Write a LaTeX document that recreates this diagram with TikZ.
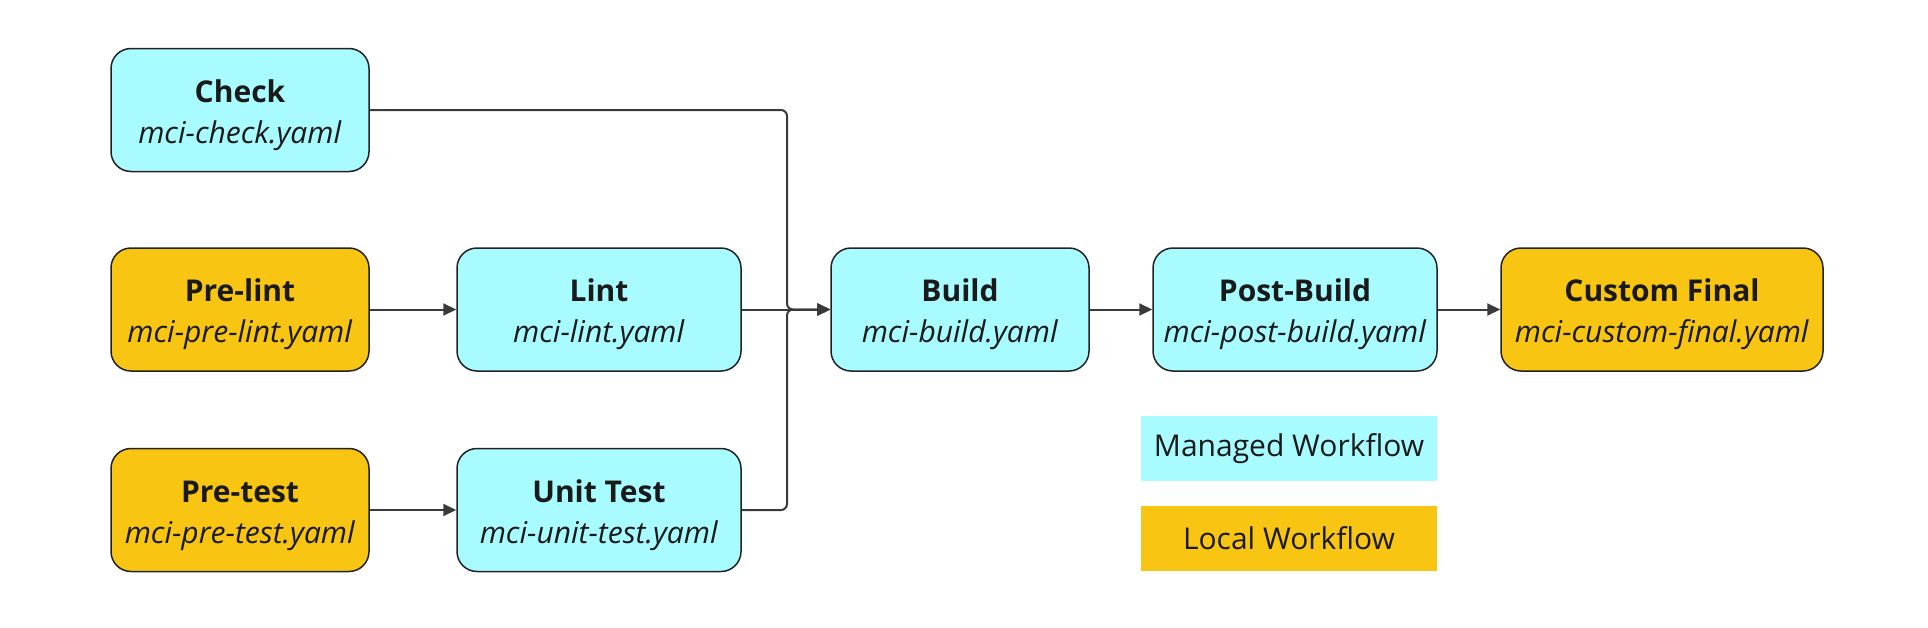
\documentclass[tikz,border=0pt]{standalone}
\usepackage{fontspec}
\setmainfont{Open Sans}
\usetikzlibrary{arrows.meta}
\definecolor{managed}{HTML}{A8FCFF}
\definecolor{localc}{HTML}{F8C512}
\definecolor{edgec}{HTML}{222222}
\definecolor{wire}{HTML}{3A3A3A}
\definecolor{txt}{HTML}{1A1A1A}
\newcommand{\twoline}[2]{\rule{0pt}{33pt}\textbf{#1}\\\textit{#2}}
\tikzset{
  box/.style={draw=edgec, line width=1.5pt, rounded corners=20pt, minimum height=123pt,
    inner sep=0pt, align=center, text=txt, font=\fontsize{30}{41}\selectfont},
  mbox/.style={box, fill=managed},
  lbox/.style={box, fill=localc},
  legend/.style={minimum width=296pt, minimum height=65pt, inner sep=0pt, text=txt,
    font=\fontsize{30}{34}\selectfont},
  wireline/.style={draw=wire, line width=2pt},
  arr/.style={wireline, -{Triangle[length=13pt,width=12pt]}},
}
\begin{document}
\begin{tikzpicture}[x=1pt,y=-1pt]
\useasboundingbox (0,0) rectangle (1928,627);
\node[mbox, minimum width=258pt] (check) at (240,110) {\twoline{Check}{mci-check.yaml}};
\node[lbox, minimum width=258pt] (prelint) at (240,309.5) {\twoline{Pre-lint}{mci-pre-lint.yaml}};
\node[lbox, minimum width=258pt] (pretest) at (240,510) {\twoline{Pre-test}{mci-pre-test.yaml}};
\node[mbox, minimum width=284pt] (lint) at (599,309.5) {\twoline{Lint}{mci-lint.yaml}};
\node[mbox, minimum width=284pt] (unit) at (599,510) {\twoline{Unit Test}{mci-unit-test.yaml}};
\node[mbox, minimum width=258pt] (build) at (960,309.5) {\twoline{Build}{mci-build.yaml}};
\node[mbox, minimum width=284pt] (post) at (1295,309.5) {\twoline{Post-Build}{mci-post-build.yaml}};
\node[lbox, minimum width=322pt] (final) at (1662,309.5) {\twoline{Custom Final}{mci-custom-final.yaml}};
\node[legend, fill=managed] (lman) at (1289,448.5) {Managed Workflow};
\node[legend, fill=localc] (lloc) at (1289,538) {Local Workflow};
\coordinate (jx) at (787,309.5);
\draw[arr, rounded corners=6pt] (check.east) -- (check.east -| jx) -- (jx) -- (build.west);
\draw[arr, rounded corners=6pt] (unit.east) -- (unit.east -| jx) -- (jx) -- (build.west);
\draw[arr] (lint.east) -- (build.west);
\draw[arr] (prelint.east) -- (lint.west);
\draw[arr] (pretest.east) -- (unit.west);
\draw[arr] (build.east) -- (post.west);
\draw[arr] (post.east) -- (final.west);
\end{tikzpicture}
\end{document}
